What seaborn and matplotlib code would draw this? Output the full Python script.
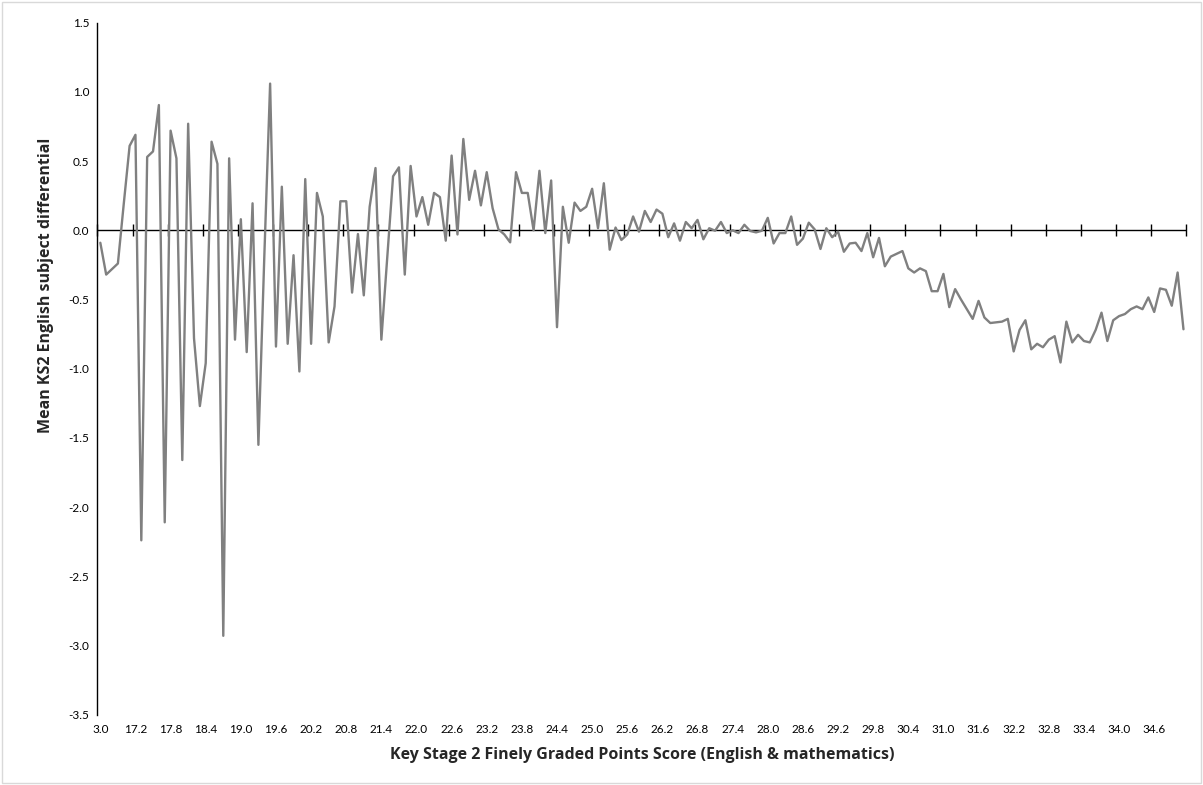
import numpy as np
import pandas as pd
import matplotlib
matplotlib.use("Agg")
import matplotlib.pyplot as plt
import seaborn as sns
from matplotlib.patches import Rectangle

# Finely graded points score categories (first bin 3.0, then 16.7 .. 35.1 in 0.1 steps)
scores = [3.0] + [round(v, 1) for v in np.arange(16.7, 35.15, 0.1)]

# Mean KS2 English subject differential for each score
differential = [
    -0.09, -0.32, -0.28, -0.24, 0.19, 0.61, 0.69, -2.24, 0.53, 0.57,
    0.905, -2.11, 0.72, 0.52, -1.66, 0.77, -0.78, -1.27, -0.96, 0.64,
    0.48, -2.93, 0.52, -0.79, 0.08, -0.88, 0.195, -1.55, -0.20, 1.06,
    -0.84, 0.315, -0.82, -0.18, -1.02, 0.37, -0.82, 0.27, 0.10, -0.81,
    -0.55, 0.21, 0.21, -0.45, -0.027, -0.47, 0.17, 0.45, -0.79, -0.20,
    0.39, 0.455, -0.32, 0.465, 0.10, 0.24, 0.04, 0.27, 0.24, -0.075,
    0.54, -0.03, 0.66, 0.22, 0.43, 0.18, 0.42, 0.16, 0.007, -0.03,
    -0.087, 0.42, 0.27, 0.27, 0.0, 0.43, -0.02, 0.36, -0.70, 0.17,
    -0.09, 0.20, 0.14, 0.17, 0.30, 0.015, 0.34, -0.14, 0.02, -0.07,
    -0.03, 0.10, -0.01, 0.14, 0.06, 0.15, 0.12, -0.05, 0.05, -0.075,
    0.06, 0.015, 0.075, -0.065, 0.015, -0.003, 0.06, -0.02, 0.0, -0.02,
    0.04, -0.005, -0.015, -0.003, 0.09, -0.095, -0.02, -0.02, 0.10, -0.105,
    -0.06, 0.055, 0.007, -0.135, 0.015, -0.05, -0.01, -0.155, -0.095, -0.09,
    -0.15, -0.02, -0.195, -0.055, -0.26, -0.19, -0.17, -0.15, -0.275, -0.305,
    -0.275, -0.295, -0.44, -0.44, -0.315, -0.555, -0.425, -0.50, -0.57, -0.64,
    -0.51, -0.63, -0.67, -0.665, -0.66, -0.64, -0.875, -0.72, -0.65, -0.86,
    -0.82, -0.845, -0.79, -0.765, -0.955, -0.66, -0.81, -0.755, -0.80, -0.81,
    -0.72, -0.595, -0.80, -0.65, -0.62, -0.605, -0.57, -0.55, -0.57, -0.485,
    -0.59, -0.42, -0.43, -0.545, -0.305, -0.715,
]

y_ticks = [1.5, 1.0, 0.5, 0.0, -0.5, -1.0, -1.5, -2.0, -2.5, -3.0, -3.5]
label_every = 6

x_title = "Key Stage 2 Finely Graded Points Score (English & mathematics)"
y_title = "Mean KS2 English subject differential"

df = pd.DataFrame({"pos": np.arange(len(differential)),
                   "score": [f"{s:.1f}" for s in scores],
                   "diff": differential})

sns.set_theme(style="white")
plt.rcParams["font.family"] = ["Lato", "DejaVu Sans"]

W, H = 1203, 785
fig = plt.figure(figsize=(W / 100, H / 100), dpi=100)
ax = fig.add_axes([97.4 / W, (H - 714.7) / H, (1186.4 - 97.4) / W, (714.7 - 22.7) / H])

sns.lineplot(data=df, x="pos", y="diff", ax=ax, color="#808080", linewidth=1.7)

n = len(differential)
ax.set_xlim(-0.5, n - 0.5)
ax.set_ylim(-3.5, 1.5)

# value axis
ax.set_yticks(y_ticks)
ax.set_yticklabels([f"{t:.1f}" for t in y_ticks], fontsize=8.5, color="#000000")
ax.tick_params(axis="y", length=0, pad=6)

# category labels sit at the bottom of the plot
label_pos = list(range(0, n, label_every))
ax.set_xticks(label_pos)
ax.set_xticklabels([df["score"][i] for i in label_pos], fontsize=8.5, color="#000000")
ax.tick_params(axis="x", length=0, pad=7)

for side in ["top", "right", "bottom"]:
    ax.spines[side].set_visible(False)
ax.spines["left"].set_color("#000000")
ax.spines["left"].set_linewidth(1.0)

# horizontal axis line crossing at zero, with tick marks between category groups
ax.axhline(0, color="#000000", linewidth=1.0, zorder=1)
zero_frac = (0 - (-3.5)) / (1.5 - (-3.5))
sec = ax.secondary_xaxis(zero_frac)
sec.set_xticks([p - 0.5 for p in range(0, n + 1, label_every)])
sec.tick_params(axis="x", which="both", direction="inout", length=8, width=1.0,
                color="#000000", labelbottom=False, labeltop=False)
for s in sec.spines.values():
    s.set_visible(False)

ax.set_xlabel(x_title, fontsize=11.5, fontweight="bold", labelpad=8,
              family=["Open Sans", "DejaVu Sans"])
ax.set_ylabel(y_title, fontsize=11.5, fontweight="bold",
              family=["Open Sans", "DejaVu Sans"])
ax.yaxis.set_label_coords(-0.040, 0.62)

fig.patches.append(Rectangle((0.0015, 0.002), 0.997, 0.996, transform=fig.transFigure,
                             fill=False, edgecolor="#d9d9d9", linewidth=1.0))

fig.savefig("out.png", dpi=100)
